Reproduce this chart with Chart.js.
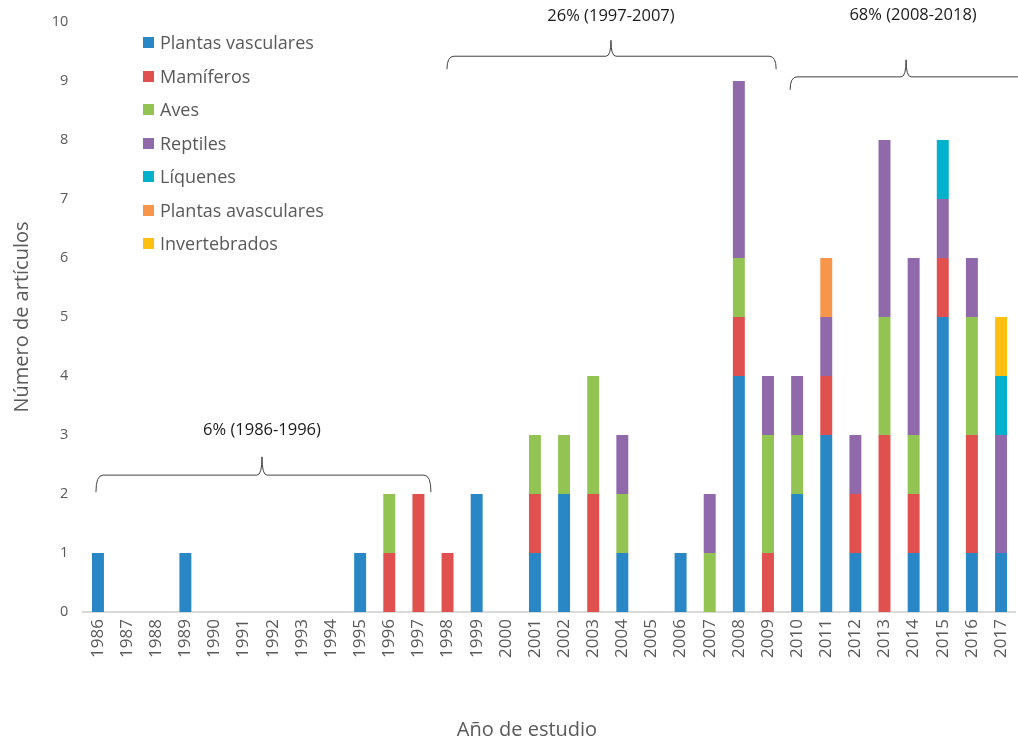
<!DOCTYPE html>
<html>
<head>
<meta charset="utf-8">
<script src="https://cdn.jsdelivr.net/npm/chart.js@4.4.1/dist/chart.umd.min.js"></script>
<style>
  html, body { margin: 0; padding: 0; background: #fff; }
  #wrap { position: relative; width: 1018px; height: 740px; }
  #legend { position: absolute; left: 143px; top: 0; font-family: "Open Sans", sans-serif; font-size: 18px; color: #595959; }
  .li { position: absolute; left: 0; white-space: nowrap; height: 24px; line-height: 24px; }
  .sw { position: absolute; left: 0; top: 7px; width: 11px; height: 11px; }
  .lt { position: absolute; left: 17px; top: 0; }
</style>
</head>
<body>
<div id="wrap">
  <canvas id="c" width="1018" height="740"></canvas>
  <div id="legend"></div>
</div>
<script>
// ---------- DATA ----------
const years = ["1986","1987","1988","1989","1990","1991","1992","1993","1994","1995","1996","1997","1998","1999","2000","2001","2002","2003","2004","2005","2006","2007","2008","2009","2010","2011","2012","2013","2014","2015","2016","2017"];
const plantasVasculares  = [1,0,0,1,0,0,0,0,0,1,0,0,0,2,0,1,2,0,1,0,1,0,4,0,2,3,1,0,1,5,1,1];
const mamiferos          = [0,0,0,0,0,0,0,0,0,0,1,2,1,0,0,1,0,2,0,0,0,0,1,1,0,1,1,3,1,1,2,0];
const aves               = [0,0,0,0,0,0,0,0,0,0,1,0,0,0,0,1,1,2,1,0,0,1,1,2,1,0,0,2,1,0,2,0];
const reptiles           = [0,0,0,0,0,0,0,0,0,0,0,0,0,0,0,0,0,0,1,0,0,1,3,1,1,1,1,3,3,1,1,2];
const liquenes           = [0,0,0,0,0,0,0,0,0,0,0,0,0,0,0,0,0,0,0,0,0,0,0,0,0,0,0,0,0,1,0,1];
const plantasAvasculares = [0,0,0,0,0,0,0,0,0,0,0,0,0,0,0,0,0,0,0,0,0,0,0,0,0,1,0,0,0,0,0,0];
const invertebrados      = [0,0,0,0,0,0,0,0,0,0,0,0,0,0,0,0,0,0,0,0,0,0,0,0,0,0,0,0,0,0,0,1];
const seriesNames = ["Plantas vasculares","Mamíferos","Aves","Reptiles","Líquenes","Plantas avasculares","Invertebrados"];
const yTicks = [0,1,2,3,4,5,6,7,8,9,10];
const periodLabels = ["6% (1986-1996)","26% (1997-2007)","68% (2008-2018)"];

// ---------- STYLE ----------
const colors = ["#2887C4","#E0504E","#92C353","#9069AB","#00B1CB","#F7964A","#FEC010"];
const seriesData = [plantasVasculares, mamiferos, aves, reptiles, liquenes, plantasAvasculares, invertebrados];
// brace geometry: [left idx, right idx, tip idx, yLine, yEnds, yTip, yText] (in scale units)
const braceGeom = [
  [-0.07, 11.43, 5.63, 2.32, 2.03, 2.63, 3.08],
  [11.98, 23.28, 17.61, 9.42, 9.20, 9.69, 10.10],
  [23.76, 31.65, 27.74, 9.07, 8.85, 9.36, 10.12]
];
const braceTextX = [5.63, 17.61, 27.98];

const FONT = '"Open Sans", sans-serif';
const GRAY = '#595959';

const datasets = seriesNames.map((n, i) => ({
  label: n,
  data: seriesData[i],
  backgroundColor: colors[i],
  borderWidth: 0,
  barPercentage: 0.41,
  categoryPercentage: 1.0
}));

const bracePlugin = {
  id: 'braces',
  afterDatasetsDraw(chart) {
    const ctx = chart.ctx;
    const xs = chart.scales.x, ys = chart.scales.y;
    const px = v => {
      const a = xs.getPixelForValue(0), b = xs.getPixelForValue(1);
      return a + v * (b - a);
    };
    ctx.save();
    ctx.strokeStyle = '#404040';
    ctx.lineWidth = 1;
    braceGeom.forEach((g, i) => {
      const L = px(g[0]), R = Math.min(px(g[1]), chart.width + 5), T = px(g[2]);
      const yl = ys.getPixelForValue(g[3]), ye = ys.getPixelForValue(g[4]), yt = ys.getPixelForValue(g[5]);
      ctx.beginPath();
      ctx.moveTo(L, ye);
      ctx.quadraticCurveTo(L, yl, L + 7, yl);
      ctx.lineTo(T - 5, yl);
      ctx.quadraticCurveTo(T, yl, T, yt);
      ctx.quadraticCurveTo(T, yl, T + 5, yl);
      if (g[1] > 31) {
        ctx.lineTo(R, yl);
      } else {
        ctx.lineTo(R - 7, yl);
        ctx.quadraticCurveTo(R, yl, R, ye);
      }
      ctx.stroke();
      ctx.fillStyle = '#1a1a1a';
      ctx.font = '16.5px ' + FONT;
      ctx.textAlign = 'center';
      ctx.textBaseline = 'middle';
      ctx.fillText(periodLabels[i], px(braceTextX[i]), ys.getPixelForValue(g[6]));
    });
    // x-axis title
    ctx.fillStyle = GRAY;
    ctx.font = '20px ' + FONT;
    ctx.textAlign = 'center';
    ctx.textBaseline = 'middle';
    ctx.fillText('Año de estudio', 527, 730);
    ctx.restore();
  }
};

new Chart(document.getElementById('c'), {
  type: 'bar',
  data: { labels: years, datasets },
  options: {
    responsive: false,
    animation: false,
    devicePixelRatio: 1,
    layout: { padding: { left: 0, right: 2.4, top: 22, bottom: 0 } },
    plugins: { legend: { display: false }, tooltip: { enabled: false } },
    scales: {
      x: {
        stacked: true,
        grid: { display: false, drawTicks: false },
        border: { display: true, color: '#D9D9D9', width: 2 },
        ticks: { color: GRAY, font: { family: FONT, size: 17 }, maxRotation: 90, minRotation: 90, padding: 7, autoSkip: false },
        afterFit(s) { s.height = 128; s.paddingLeft = 0; s.paddingRight = 0; }
      },
      y: {
        stacked: true,
        min: 0, max: 10,
        afterBuildTicks(s) { s.ticks = yTicks.map(v => ({ value: v })); },
        grid: { display: false, drawTicks: false },
        border: { display: false },
        ticks: { color: GRAY, font: { family: FONT, size: 14.5 }, padding: 15 },
        title: { display: true, text: 'Número de artículos', color: GRAY, font: { family: FONT, size: 20, lineHeight: 1 }, padding: { top: 12, bottom: 0 } },
        afterFit(s) { s.width = 83.4; s.paddingTop = 0; s.paddingBottom = 0; }
      }
    }
  },
  plugins: [bracePlugin]
});

// HTML legend built from the series
const leg = document.getElementById('legend');
seriesNames.forEach((n, i) => {
  const d = document.createElement('div');
  d.className = 'li';
  d.style.top = (42 + i * 33.5 - 12) + 'px';
  d.innerHTML = '<span class="sw" style="background:' + colors[i] + '"></span><span class="lt">' + n + '</span>';
  leg.appendChild(d);
});
</script>
</body>
</html>
